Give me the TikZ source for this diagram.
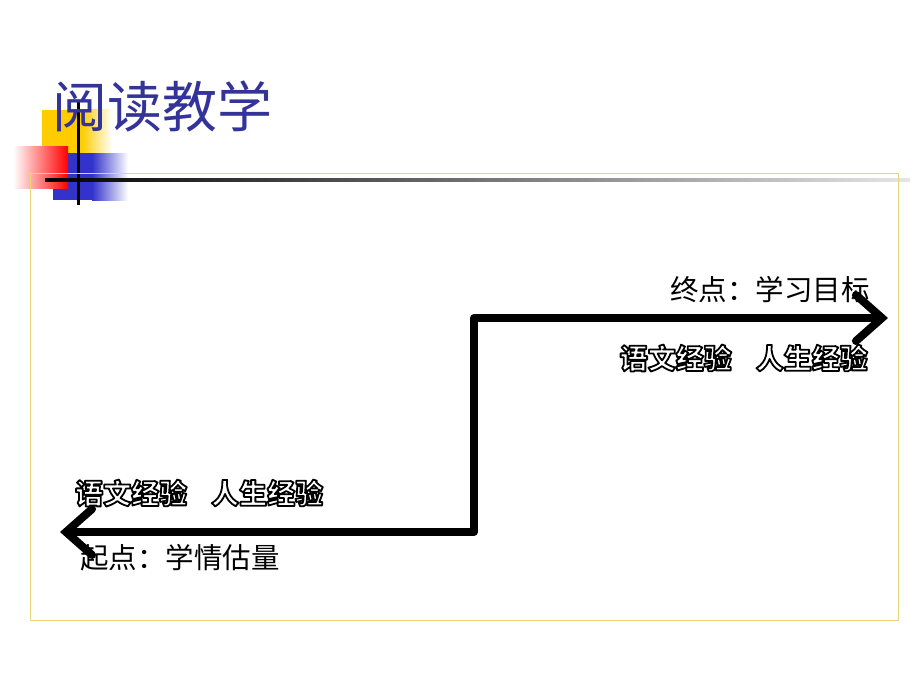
\documentclass[tikz,border=0pt]{standalone}
\usepackage{fontspec}
\newfontfamily\cjk{Noto Sans CJK SC}
\usetikzlibrary{arrows.meta}
\definecolor{titleblue}{HTML}{333399}
\definecolor{frameyellow}{HTML}{E8D679}
\definecolor{sqyellow}{HTML}{FFCC00}
\definecolor{sqblue}{HTML}{3333CC}
% white letters with a black outline
\newcommand{\hollow}[1]{{\color{white}\special{pdf:literal direct 2 Tr 1.8 w 0 G}#1\special{pdf:literal direct 0 Tr}}}
\begin{document}
\begin{tikzpicture}[x=1pt, y=-1pt, line join=round,
	title/.style={font=\cjk\fontsize{55}{60}\selectfont, text=titleblue, inner sep=0pt},
	label/.style={font=\cjk\fontsize{28.5}{30}\selectfont, inner sep=0pt},
	hollowtxt/.style={font=\cjk\bfseries\fontsize{28}{30}\selectfont, inner sep=0pt},
	path/.style={line width=8pt, line cap=round,
		arrows={Straight Barb[length=26pt,width=46pt,line cap=round]-Straight Barb[length=26pt,width=46pt,line cap=round]}}]
	\useasboundingbox (0,0) rectangle (920,690);
	% corner squares
	\fill[sqyellow] (42,110) rectangle (82,168);
	\shade[left color=sqyellow, right color=white] (82,110) rectangle (112,168);
	\fill[sqblue] (53,153) rectangle (92,200);
	\shade[left color=sqblue, right color=white] (92,153) rectangle (128,200);
	\shade[shading angle=45, left color=white, right color=red] (13,146) rectangle (68,188);
	\shade[left color=black, right color=black!10] (45,178.5) rectangle (910,181.5);
	\draw[line width=3pt] (78,102) -- (78,205);
	% frame
	\draw[frameyellow, line width=1pt] (30,173) rectangle (898,620);
	\node[title] (head) at (162,106) {阅读教学};
	% the path
	\path
	(60,532) coordinate (S)
	(474,532) coordinate (P)
	(474,318) coordinate (Q)
	(888,318) coordinate (E);
	\draw[path] (S)--(P)--(Q)--(E);
	\node[label, anchor=east] (goal) at (870,290) {终点：学习目标};
	\node[hollowtxt, anchor=east] (expR) at (868,358) {\hollow{语文经验\hspace{24pt}人生经验}};
	\node[hollowtxt, anchor=west] (expL) at (75,493) {\hollow{语文经验\hspace{24pt}人生经验}};
	\node[label, anchor=west] (start) at (80,558) {起点：学情估量};
\end{tikzpicture}
\end{document}
